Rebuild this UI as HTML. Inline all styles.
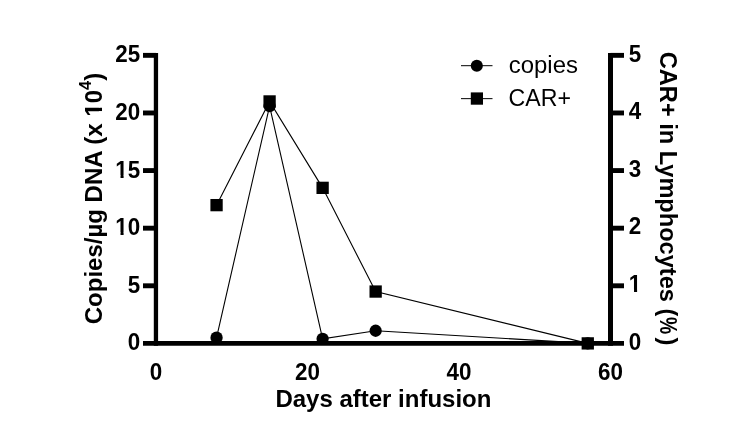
<!DOCTYPE html>
<html><head><meta charset="utf-8"><style>
html,body{margin:0;padding:0;background:#fff;}
body{width:744px;height:427px;overflow:hidden;}
svg{display:block;filter:grayscale(1);}
text{font-family:"Liberation Sans",sans-serif;}
</style></head><body>
<svg width="744" height="427" viewBox="0 0 744 427">
<polyline points="216.56,205.14 269.59,101.44 322.62,187.85 375.65,291.55 587.77,343.40" fill="none" stroke="#000" stroke-width="1.1"/>
<polyline points="216.56,337.64 269.59,106.05 322.62,338.79 375.65,330.73 587.77,343.40" fill="none" stroke="#000" stroke-width="1.1"/>
<circle cx="216.56" cy="337.64" r="6.15"/>
<circle cx="269.59" cy="106.05" r="6.15"/>
<circle cx="322.62" cy="338.79" r="6.15"/>
<circle cx="375.65" cy="330.73" r="6.15"/>
<circle cx="587.77" cy="343.40" r="6.15"/>
<rect x="210.41" y="198.99" width="12.3" height="12.3"/>
<rect x="263.44" y="95.29" width="12.3" height="12.3"/>
<rect x="316.47" y="181.70" width="12.3" height="12.3"/>
<rect x="369.50" y="285.40" width="12.3" height="12.3"/>
<rect x="581.62" y="337.25" width="12.3" height="12.3"/>
<line x1="155.95" y1="52.9" x2="155.95" y2="345.84999999999997" stroke="#000" stroke-width="4.3"/>
<line x1="610.5" y1="52.9" x2="610.5" y2="345.84999999999997" stroke="#000" stroke-width="5.0"/>
<line x1="143.0" y1="343.4" x2="624.0" y2="343.4" stroke="#000" stroke-width="4.9"/>
<line x1="143.0" y1="285.79" x2="155.95" y2="285.79" stroke="#000" stroke-width="4.9"/>
<line x1="610.5" y1="285.79" x2="624.0" y2="285.79" stroke="#000" stroke-width="4.9"/>
<line x1="143.0" y1="228.18" x2="155.95" y2="228.18" stroke="#000" stroke-width="4.9"/>
<line x1="610.5" y1="228.18" x2="624.0" y2="228.18" stroke="#000" stroke-width="4.9"/>
<line x1="143.0" y1="170.57" x2="155.95" y2="170.57" stroke="#000" stroke-width="4.9"/>
<line x1="610.5" y1="170.57" x2="624.0" y2="170.57" stroke="#000" stroke-width="4.9"/>
<line x1="143.0" y1="112.96" x2="155.95" y2="112.96" stroke="#000" stroke-width="4.9"/>
<line x1="610.5" y1="112.96" x2="624.0" y2="112.96" stroke="#000" stroke-width="4.9"/>
<line x1="143.0" y1="55.35" x2="155.95" y2="55.35" stroke="#000" stroke-width="4.9"/>
<line x1="610.5" y1="55.35" x2="624.0" y2="55.35" stroke="#000" stroke-width="4.9"/>
<g transform="translate(140.2,350) scale(1,1.04)"><text text-anchor="end" font-family="Liberation Sans" font-weight="bold" font-size="22.4">0</text></g>
<g transform="translate(140.2,293) scale(1,1.04)"><text text-anchor="end" font-family="Liberation Sans" font-weight="bold" font-size="22.4">5</text></g>
<g transform="translate(140.2,235) scale(1,1.04)"><text text-anchor="end" font-family="Liberation Sans" font-weight="bold" font-size="22.4">10</text><rect x="-24.91" y="-2.882" width="5.228" height="4.036" fill="#fff"/><rect x="-16.607" y="-2.882" width="4.386" height="4.036" fill="#fff"/></g>
<g transform="translate(140.2,178) scale(1,1.04)"><text text-anchor="end" font-family="Liberation Sans" font-weight="bold" font-size="22.4">15</text><rect x="-24.91" y="-2.882" width="5.228" height="4.036" fill="#fff"/><rect x="-16.607" y="-2.882" width="4.386" height="4.036" fill="#fff"/></g>
<g transform="translate(140.2,120) scale(1,1.04)"><text text-anchor="end" font-family="Liberation Sans" font-weight="bold" font-size="22.4">20</text></g>
<g transform="translate(140.2,62) scale(1,1.04)"><text text-anchor="end" font-family="Liberation Sans" font-weight="bold" font-size="22.4">25</text></g>
<g transform="translate(628.8,350) scale(1,1.04)"><text font-family="Liberation Sans" font-weight="bold" font-size="22.4">0</text></g>
<g transform="translate(628.8,292) scale(1,1.04)"><text font-family="Liberation Sans" font-weight="bold" font-size="22.4">1</text><rect x="0.00" y="-2.882" width="5.228" height="4.036" fill="#fff"/><rect x="8.302" y="-2.882" width="4.386" height="4.036" fill="#fff"/></g>
<g transform="translate(628.8,234) scale(1,1.04)"><text font-family="Liberation Sans" font-weight="bold" font-size="22.4">2</text></g>
<g transform="translate(628.8,177) scale(1,1.04)"><text font-family="Liberation Sans" font-weight="bold" font-size="22.4">3</text></g>
<g transform="translate(628.8,119) scale(1,1.04)"><text font-family="Liberation Sans" font-weight="bold" font-size="22.4">4</text></g>
<g transform="translate(628.8,62) scale(1,1.04)"><text font-family="Liberation Sans" font-weight="bold" font-size="22.4">5</text></g>
<g transform="translate(155.95,380) scale(1,1.04)"><text text-anchor="middle" font-family="Liberation Sans" font-weight="bold" font-size="22.4">0</text></g>
<g transform="translate(307.47,380) scale(1,1.04)"><text text-anchor="middle" font-family="Liberation Sans" font-weight="bold" font-size="22.4">20</text></g>
<g transform="translate(458.98,380) scale(1,1.04)"><text text-anchor="middle" font-family="Liberation Sans" font-weight="bold" font-size="22.4">40</text></g>
<g transform="translate(610.50,380) scale(1,1.04)"><text text-anchor="middle" font-family="Liberation Sans" font-weight="bold" font-size="22.4">60</text></g>
<text x="383.4" y="407" text-anchor="middle" font-family="Liberation Sans" font-weight="bold" font-size="24">Days after infusion</text>
<g transform="translate(102,198.5) rotate(-90)"><text text-anchor="middle" font-family="Liberation Sans" font-weight="bold" font-size="24">Copies/µg DNA (x 10<tspan font-size="16.5" dy="-11">4</tspan><tspan dy="11">)</tspan></text><rect x="81.85" y="-3.069" width="5.602" height="4.269" fill="#fff"/><rect x="90.745" y="-3.069" width="4.699" height="4.269" fill="#fff"/></g>
<text transform="translate(659.5,198.5) rotate(90)" text-anchor="middle" font-family="Liberation Sans" font-weight="bold" font-size="23.6">CAR+ in Lymphocytes (<tspan dx="0.5" textLength="17.2" lengthAdjust="spacingAndGlyphs">%</tspan><tspan dx="3.3">)</tspan></text>
<line x1="461" y1="65.7" x2="492.5" y2="65.7" stroke="#000" stroke-width="1.0"/>
<circle cx="476.8" cy="65.8" r="6.05"/>
<line x1="461" y1="98.65" x2="492.5" y2="98.65" stroke="#000" stroke-width="1.0"/>
<rect x="470.8" y="92.4" width="12.2" height="12.3"/>
<text x="508.8" y="73.2" textLength="69.1" lengthAdjust="spacingAndGlyphs" font-family="Liberation Sans" font-size="23.5">copies</text>
<text x="508.6" y="105.6" textLength="62.4" lengthAdjust="spacingAndGlyphs" font-family="Liberation Sans" font-size="23.5">CAR+</text>
</svg>
</body></html>
